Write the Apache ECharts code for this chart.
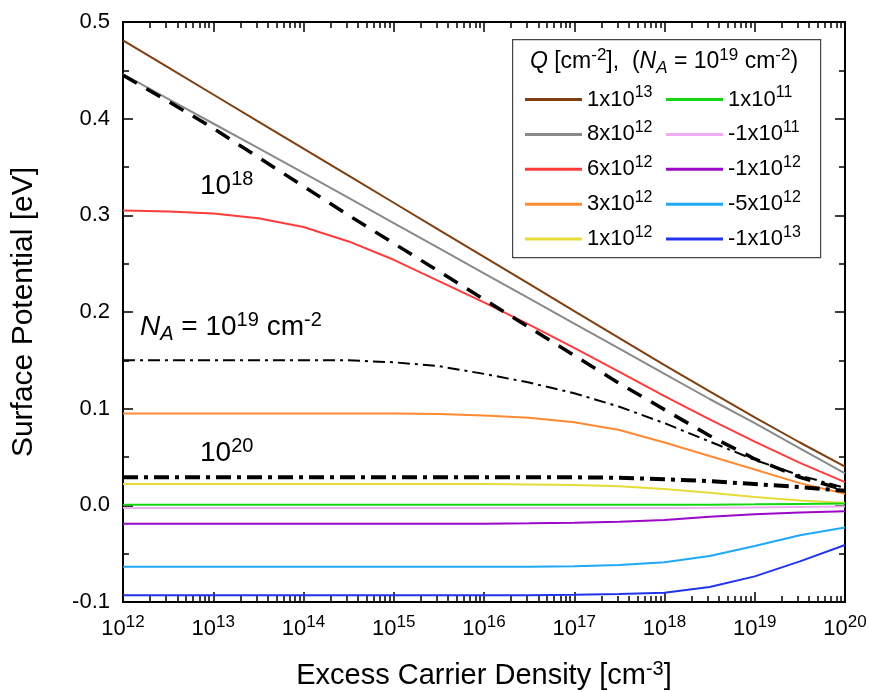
<!DOCTYPE html>
<html>
<head>
<meta charset="utf-8">
<script src="https://cdn.jsdelivr.net/npm/echarts@6/dist/echarts.min.js"></script>
<style>
  html, body { margin: 0; padding: 0; background: #fff; }
  #chart { width: 869px; height: 692px; }
</style>
</head>
<body>
<div id="chart"></div>
<script>
// Excess carrier density, as decade exponents (cm^-3), half-decade steps
const exps = [12, 12.5, 13, 13.5, 14, 14.5, 15, 15.5, 16, 16.5, 17, 17.5, 18, 18.5, 19, 19.5, 20];

// Surface potential [eV] for each fixed charge Q (N_A = 1e19 cm^-3)
const q1e13  = [0.481, 0.453, 0.425, 0.397, 0.369, 0.341, 0.313, 0.285, 0.257, 0.229, 0.201, 0.173, 0.145, 0.118, 0.091, 0.065, 0.040];
const q8e12  = [0.446, 0.4205, 0.395, 0.3695, 0.344, 0.318, 0.292, 0.266, 0.240, 0.214, 0.188, 0.162, 0.136, 0.110, 0.085, 0.059, 0.033];
const q6e12  = [0.305, 0.304, 0.302, 0.297, 0.288, 0.273, 0.254, 0.232, 0.210, 0.187, 0.163, 0.138, 0.113, 0.089, 0.066, 0.044, 0.024];
const q3e12  = [0.095, 0.095, 0.095, 0.095, 0.095, 0.095, 0.095, 0.0945, 0.093, 0.0905, 0.086, 0.078, 0.065, 0.051, 0.037, 0.023, 0.012];
const q1e12  = [0.022, 0.022, 0.022, 0.022, 0.022, 0.022, 0.022, 0.022, 0.022, 0.0215, 0.021, 0.0198, 0.017, 0.013, 0.0085, 0.005, 0.0025];
const q1e11  = [0.0005, 0.0005, 0.0005, 0.0005, 0.0005, 0.0005, 0.0005, 0.0005, 0.0005, 0.0005, 0.0005, 0.0005, 0.0005, 0.0007, 0.001, 0.0015, 0.002];
const qm1e11 = [-0.0028, -0.0028, -0.0028, -0.0028, -0.0028, -0.0028, -0.0028, -0.0028, -0.0028, -0.0028, -0.0028, -0.0028, -0.0028, -0.0026, -0.0022, -0.0017, -0.0012];
const qm1e12 = [-0.019, -0.019, -0.019, -0.019, -0.019, -0.019, -0.019, -0.019, -0.019, -0.0186, -0.018, -0.017, -0.0152, -0.0118, -0.0093, -0.0075, -0.006];
const qm5e12 = [-0.0635, -0.0635, -0.0635, -0.0635, -0.0635, -0.0635, -0.0635, -0.0635, -0.0635, -0.0635, -0.063, -0.0618, -0.0588, -0.0525, -0.042, -0.031, -0.023];
const qm1e13 = [-0.093, -0.093, -0.093, -0.093, -0.093, -0.093, -0.093, -0.093, -0.093, -0.093, -0.0926, -0.0918, -0.0905, -0.0845, -0.0735, -0.058, -0.041];

// Reference curves for other doping levels N_A
const na1e18 = [0.445, 0.418, 0.390, 0.360, 0.330, 0.300, 0.271, 0.242, 0.213, 0.184, 0.155, 0.126, 0.099, 0.072, 0.048, 0.029, 0.016];
const na1e19 = [0.150, 0.150, 0.150, 0.150, 0.150, 0.150, 0.148, 0.144, 0.136, 0.127, 0.116, 0.102, 0.085, 0.066, 0.047, 0.031, 0.018];
const na1e20 = [0.029, 0.029, 0.029, 0.029, 0.029, 0.029, 0.029, 0.029, 0.029, 0.029, 0.029, 0.0285, 0.027, 0.025, 0.022, 0.019, 0.015];

// Legend names (charge densities, cm^-2), two columns
const legendLeft  = ['1x10^13', '8x10^12', '6x10^12', '3x10^12', '1x10^12'];
const legendRight = ['1x10^11', '-1x10^11', '-1x10^12', '-5x10^12', '-1x10^13'];
const chargeSeries = [q1e13, q8e12, q6e12, q3e12, q1e12, q1e11, qm1e11, qm1e12, qm5e12, qm1e13];
const chargeColors = ['#7f3f0f', '#8a8a8a', '#ff3c3c', '#ff8a33', '#e6dc38',
                      '#12d812', '#ecaeee', '#9a08c8', '#1fa8f5', '#2233ee'];

// Axis ticks
const xDecades = [12, 13, 14, 15, 16, 17, 18, 19, 20];
const yTicks = [-0.1, 0.0, 0.1, 0.2, 0.3, 0.4, 0.5];

const FONT = "'Liberation Sans', Arial, sans-serif";

// Rich-text styles: legend entries
const legendRich = {
  b:   { fontSize: 22, fontFamily: FONT, color: '#000', lineHeight: 30 },
  sup: { fontSize: 16, fontFamily: FONT, color: '#000', lineHeight: 14, verticalAlign: 'top' }
};
// Legend heading
const headRich = {
  b:   { fontSize: 23, fontFamily: FONT, color: '#000', lineHeight: 30 },
  i:   { fontSize: 23, fontFamily: FONT, color: '#000', lineHeight: 30, fontStyle: 'italic' },
  sup: { fontSize: 17, fontFamily: FONT, color: '#000', lineHeight: 14, verticalAlign: 'top' },
  sub: { fontSize: 17, fontFamily: FONT, color: '#000', lineHeight: 12, verticalAlign: 'bottom', fontStyle: 'italic' }
};
// Curve annotations inside the plot
const noteRich = {
  b:   { fontSize: 28, fontFamily: FONT, color: '#000', lineHeight: 34 },
  i:   { fontSize: 28, fontFamily: FONT, color: '#000', lineHeight: 34, fontStyle: 'italic' },
  sup: { fontSize: 20, fontFamily: FONT, color: '#000', lineHeight: 20, verticalAlign: 'top' },
  sub: { fontSize: 20, fontFamily: FONT, color: '#000', lineHeight: 12, verticalAlign: 'bottom', fontStyle: 'italic' }
};
// Tick labels of the density axis
const tickRich = {
  b:   { fontSize: 22, fontFamily: FONT, color: '#000', lineHeight: 30 },
  sup: { fontSize: 17, fontFamily: FONT, color: '#000', lineHeight: 20, verticalAlign: 'top' }
};

function powLabel(name) {
  const m = name.match(/^(.*)\^(-?\d+)$/);
  return m ? '{b|' + m[1] + '}{sup|' + m[2] + '}' : '{b|' + name + '}';
}

// Minor tick positions (2..9 within each decade), in exponent units
const minorExps = [];
for (let d = xDecades[0]; d < xDecades[xDecades.length - 1]; d++) {
  for (let k = 2; k <= 9; k++) minorExps.push(d + Math.log10(k));
}

const toPairs = vals => exps.map((e, i) => [Math.pow(10, e), vals[i]]);

const series = [];
chargeSeries.forEach((vals, i) => {
  const name = i < 5 ? legendLeft[i] : legendRight[i - 5];
  series.push({
    name: name, type: 'line', xAxisIndex: 0, yAxisIndex: 0,
    data: toPairs(vals), showSymbol: false, symbol: 'none', smooth: false,
    lineStyle: { color: chargeColors[i], width: 2 },
    itemStyle: { color: chargeColors[i] },
    z: 2
  });
});
series.push({
  name: 'NA 1e18', type: 'line', data: toPairs(na1e18), symbol: 'none', smooth: false,
  lineStyle: { color: '#000', width: 3.5, type: [16, 11] }, z: 3
});
series.push({
  name: 'NA 1e19', type: 'line', data: toPairs(na1e19), symbol: 'none', smooth: false,
  lineStyle: { color: '#000', width: 2, type: [12, 5, 3, 5] }, z: 3
});
series.push({
  name: 'NA 1e20', type: 'line', data: toPairs(na1e20), symbol: 'none', smooth: false,
  lineStyle: { color: '#000', width: 4, type: [15, 6, 4, 6] }, z: 3
});

const axisLine = { show: true, onZero: false, lineStyle: { color: '#000', width: 2 } };
const tickStyle = { color: '#000', width: 1.5 };

const legendCommon = {
  orient: 'vertical', icon: 'rect', itemWidth: 57, itemHeight: 3, itemGap: 8.9,
  itemStyle: { borderWidth: 0 }, padding: 0, selectedMode: false, top: 84.5, z: 20,
  textStyle: { rich: legendRich },
  formatter: powLabel
};

const option = {
  animation: false,
  backgroundColor: '#fff',
  textStyle: { fontFamily: FONT },
  grid: { left: 123, right: 24, top: 22, bottom: 90, containLabel: false, outerBoundsMode: 'none' },
  legend: [
    Object.assign({}, legendCommon, { left: 525, data: legendLeft }),
    Object.assign({}, legendCommon, { left: 666, data: legendRight })
  ],
  xAxis: [
    {
      type: 'log', logBase: 10, min: Math.pow(10, xDecades[0]), max: Math.pow(10, xDecades[xDecades.length - 1]),
      interval: 1, splitNumber: 8, position: 'bottom',
      axisLine: axisLine,
      axisTick: { inside: true, length: 10, lineStyle: tickStyle },
      axisLabel: {
        margin: 12,
        formatter: v => '{b|10}{sup|' + Math.round(Math.log10(v)) + '}',
        rich: tickRich
      },
      splitLine: { show: false },
      name: '{t|Excess Carrier Density [cm}{ts|-3}{t|]}',
      nameLocation: 'middle', nameGap: 57,
      nameTextStyle: {
        rich: {
          t:  { fontSize: 29, fontFamily: FONT, color: '#000', lineHeight: 34 },
          ts: { fontSize: 20, fontFamily: FONT, color: '#000', lineHeight: 20, verticalAlign: 'top' }
        }
      }
    },
    {
      type: 'log', logBase: 10, min: Math.pow(10, xDecades[0]), max: Math.pow(10, xDecades[xDecades.length - 1]),
      interval: 1, splitNumber: 8, position: 'top',
      axisLine: axisLine,
      axisTick: { inside: true, length: 10, lineStyle: tickStyle },
      axisLabel: { show: false }, splitLine: { show: false }
    },
    {
      type: 'value', min: xDecades[0], max: xDecades[xDecades.length - 1], position: 'bottom',
      axisLine: { show: false, onZero: false },
      axisTick: { inside: true, length: 6, lineStyle: tickStyle, customValues: minorExps },
      axisLabel: { show: false }, splitLine: { show: false }
    },
    {
      type: 'value', min: xDecades[0], max: xDecades[xDecades.length - 1], position: 'top',
      axisLine: { show: false, onZero: false },
      axisTick: { inside: true, length: 6, lineStyle: tickStyle, customValues: minorExps },
      axisLabel: { show: false }, splitLine: { show: false }
    }
  ],
  yAxis: [
    {
      type: 'value', min: yTicks[0], max: yTicks[yTicks.length - 1], interval: 0.1, position: 'left',
      axisLine: axisLine,
      axisTick: { inside: true, length: 10, lineStyle: tickStyle },
      minorTick: { show: true, splitNumber: 2, length: 6, lineStyle: tickStyle },
      axisLabel: { margin: 13, fontSize: 22, color: '#000', fontFamily: FONT, formatter: v => v.toFixed(1) },
      splitLine: { show: false },
      name: 'Surface Potential [eV]', nameLocation: 'middle', nameGap: 84,
      nameTextStyle: { fontSize: 30, color: '#000', fontFamily: FONT }
    },
    {
      type: 'value', min: yTicks[0], max: yTicks[yTicks.length - 1], interval: 0.1, position: 'right',
      axisLine: axisLine,
      axisTick: { inside: true, length: 10, lineStyle: tickStyle },
      minorTick: { show: true, splitNumber: 2, length: 6, lineStyle: tickStyle },
      axisLabel: { show: false }, splitLine: { show: false }
    }
  ],
  graphic: [
    {
      type: 'rect', z: 3, left: 512, top: 39,
      shape: { width: 308, height: 218 },
      style: { fill: '#fff', stroke: '#444', lineWidth: 1.2 }
    },
    {
      type: 'text', z: 6, x: 664, y: 61.5,
      style: {
        text: '{i|Q}{b| [cm}{sup|-2}{b|],  (}{i|N}{sub|A}{b| = 10}{sup|19}{b| cm}{sup|-2}{b|)}',
        rich: headRich, align: 'center', verticalAlign: 'middle'
      }
    },
    {
      type: 'text', z: 6, x: 200, y: 186.5,
      style: { text: '{b|10}{sup|18}', rich: noteRich, align: 'left', verticalAlign: 'middle' }
    },
    {
      type: 'text', z: 6, x: 140, y: 327.5,
      style: { text: '{i|N}{sub|A}{b| = 10}{sup|19}{b| cm}{sup|-2}', rich: noteRich, align: 'left', verticalAlign: 'middle' }
    },
    {
      type: 'text', z: 6, x: 200, y: 453.5,
      style: { text: '{b|10}{sup|20}', rich: noteRich, align: 'left', verticalAlign: 'middle' }
    }
  ],
  series: series
};

const chart = echarts.init(document.getElementById('chart'), null, { renderer: 'canvas' });
chart.setOption(option);
</script>
</body>
</html>
